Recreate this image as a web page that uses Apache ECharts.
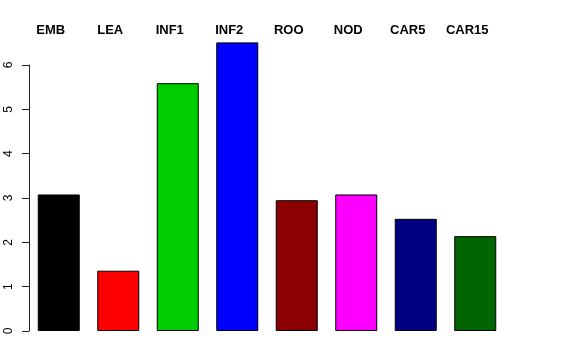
<!DOCTYPE html>
<html><head><meta charset="utf-8">
<script src="https://cdn.jsdelivr.net/npm/echarts@6/dist/echarts.min.js"></script>
<style>html,body{margin:0;padding:0;background:#fff}#c{width:576px;height:360px}</style>
</head><body><div id="c"></div>
<script>
const categories = ["EMB","LEA","INF1","INF2","ROO","NOD","CAR5","CAR15"];
const values = [3.08, 1.36, 5.59, 6.51, 2.95, 3.08, 2.53, 2.14];
const colors = ["#000000","#FF0000","#00CD00","#0000FF","#8B0000","#FF00FF","#000080","#006400"];
const yTicks = [0,1,2,3,4,5,6];

const chart = echarts.init(document.getElementById('c'), null, {renderer:'canvas'});
chart.setOption({
  animation: false,
  backgroundColor: '#fff',
  grid: {left: 29, right: 71, top: 65, bottom: 29, containLabel: false},
  xAxis: [{
    type: 'category', data: categories, position: 'top',
    axisLine: {show: false}, axisTick: {show: false}, splitLine: {show: false},
    axisLabel: {show: true, margin: 28, fontFamily: 'Liberation Sans', fontWeight: 'bold', fontSize: 13, color: '#000', padding: [0, 16, 0, 0]}
  }],
  yAxis: {
    type: 'value', min: 0, max: 6, interval: 1,
    axisLine: {show: true, lineStyle: {color: '#222', width: 1}},
    axisTick: {show: true, length: 7, lineStyle: {color: '#222'}},
    splitLine: {show: false},
    axisLabel: {rotate: 90, margin: 14, fontFamily: 'Liberation Sans', fontSize: 12, color: '#000',
      formatter: v => yTicks.includes(v) ? String(v) : ''}
  },
  series: [{
    type: 'bar', clip: false, barWidth: 42,
    data: values.map((v, i) => ({value: v, itemStyle: {color: colors[i]}})),
    itemStyle: {borderColor: '#000', borderWidth: 1}
  }]
});
</script></body></html>
